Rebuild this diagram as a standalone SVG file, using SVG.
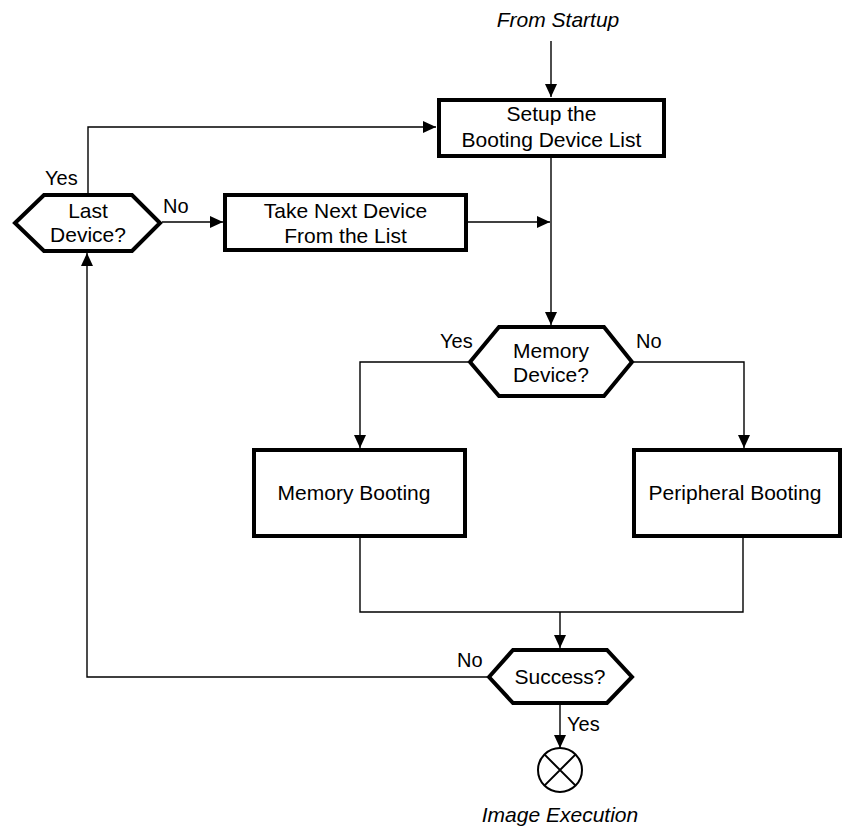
<svg xmlns="http://www.w3.org/2000/svg" width="844" height="826" viewBox="0 0 844 826">
<defs>
<marker id="arr" markerUnits="userSpaceOnUse" markerWidth="14" markerHeight="14" viewBox="0 0 14 14" refX="13" refY="7" orient="auto">
<path d="M0,1 L13,7 L0,13 Z" fill="#000"/>
</marker>
<style>
.box{fill:#fff;stroke:#000;stroke-width:4}
.con{fill:none;stroke:#000;stroke-width:1.4}
.t{font-family:"Liberation Sans",Arial,sans-serif;font-size:21px;fill:#000;text-anchor:middle}
.lbl{font-family:"Liberation Sans",Arial,sans-serif;font-size:20px;fill:#000}
.it{font-family:"Liberation Sans",Arial,sans-serif;font-size:21px;font-style:italic;fill:#000;text-anchor:middle}
</style>
</defs>
<rect width="844" height="826" fill="#fff"/>
<g id="connectors">
<path class="con" d="M551,41 V97" marker-end="url(#arr)"/>
<path class="con" d="M88,193 V127 H436" marker-end="url(#arr)"/>
<path class="con" d="M162,222 H223" marker-end="url(#arr)"/>
<path class="con" d="M468,222 H550" marker-end="url(#arr)"/>
<path class="con" d="M551,158 V325" marker-end="url(#arr)"/>
<path class="con" d="M468,362 H360 V448" marker-end="url(#arr)"/>
<path class="con" d="M634,362 H744 V448" marker-end="url(#arr)"/>
<path class="con" d="M360,538 V612 H743 V538"/>
<path class="con" d="M560,612 V648" marker-end="url(#arr)"/>
<path class="con" d="M487,677 H87 V253" marker-end="url(#arr)"/>
<path class="con" d="M560,705 V748" marker-end="url(#arr)"/>
<text class="lbl" x="45" y="185">Yes</text>
<text class="lbl" x="163" y="213">No</text>
<text class="lbl" x="440" y="348">Yes</text>
<text class="lbl" x="636" y="348">No</text>
<text class="lbl" x="457" y="667">No</text>
<text class="lbl" x="567" y="731">Yes</text>
</g>
<g id="start">
<text class="it" x="558" y="27">From Startup</text>
</g>
<g id="setup">
<rect class="box" x="439" y="100" width="225" height="56"/>
<text class="t" x="551.5" y="121">Setup the</text>
<text class="t" x="551.5" y="147">Booting Device List</text>
</g>
<g id="last">
<polygon class="box" points="15,223 44,195 132,195 160,223 132,251 44,251"/>
<text class="t" x="88" y="218">Last</text>
<text class="t" x="88" y="242">Device?</text>
</g>
<g id="takenext">
<rect class="box" x="225" y="195" width="241" height="55"/>
<text class="t" x="345.5" y="218">Take Next Device</text>
<text class="t" x="345.5" y="243">From the List</text>
</g>
<g id="memdev">
<polygon class="box" points="470,362 499,327 604,327 632,362 604,396 499,396"/>
<text class="t" x="551" y="358">Memory</text>
<text class="t" x="551" y="382">Device?</text>
</g>
<g id="membooting">
<rect class="box" x="254" y="450" width="211" height="86"/>
<text class="t" x="354" y="500">Memory Booting</text>
</g>
<g id="periph">
<rect class="box" x="634" y="450" width="206" height="86"/>
<text class="t" x="735" y="500">Peripheral Booting</text>
</g>
<g id="success">
<polygon class="box" points="489,677 513,650 607,650 632,677 607,703 513,703"/>
<text class="t" x="560" y="684">Success?</text>
</g>
<g id="exec">
<circle cx="560" cy="770" r="22" fill="#fff" stroke="#000" stroke-width="2"/>
<path d="M544.4,754.4 L575.6,785.6 M575.6,754.4 L544.4,785.6" stroke="#000" stroke-width="2"/>
<text class="it" x="560" y="822">Image Execution</text>
</g>
</svg>
